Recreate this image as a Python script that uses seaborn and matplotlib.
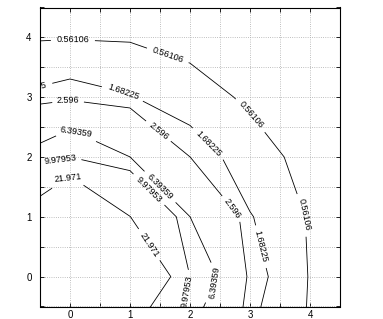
import numpy as np
import matplotlib
matplotlib.use("Agg")
import matplotlib.pyplot as plt
import seaborn as sns

# grid of sampled values (symmetric in x and y, mirrored at -1)
xs = [-1, 0, 1, 2, 3, 4, 5]
ys = [-1, 0, 1, 2, 3, 4, 5]
z = [
    [22.1, 47.5, 22.1, 6.4, 1.76, 0.456, 0.11],
    [47.5, 150.0, 47.5, 9.95, 2.2, 0.5, 0.12],
    [22.1, 47.5, 22.1, 6.4, 1.76, 0.456, 0.11],
    [6.4, 9.95, 6.4, 2.6, 0.864, 0.332, 0.09],
    [1.76, 2.2, 1.76, 0.864, 0.449, 0.25, 0.07],
    [0.456, 0.5, 0.456, 0.332, 0.25, 0.18, 0.05],
    [0.11, 0.12, 0.11, 0.09, 0.07, 0.05, 0.04],
]
levels = [0.56106, 1.68225, 2.596, 6.39359, 9.97953, 21.971]

# where the inline labels sit
label_pos = [
    (0.05, 4.0), (1.63, 3.7), (3.0, 2.69), (3.9, 1.03),
    (-0.65, 3.14), (0.88, 3.06), (2.33, 2.25), (3.18, 0.5),
    (-0.03, 2.93), (1.48, 2.44), (2.68, 1.12),
    (0.1, 2.41), (1.55, 1.55), (2.37, -0.08),
    (-0.17, 1.98), (1.33, 1.47), (1.97, -0.25),
    (0.0, 1.6), (1.3, 0.52),
]

sns.set_style("ticks")
plt.rcParams["font.family"] = ["Liberation Sans", "DejaVu Sans"]

fig = plt.figure(figsize=(3.83, 3.19), dpi=100)
ax = fig.add_axes([40 / 383, 1 - 306.5 / 319, 300 / 383, 299 / 319])

cs = ax.contour(xs, ys, np.array(z), levels=levels, colors="k", linewidths=0.6)
ax.clabel(cs, fmt="%g", fontsize=6.5, inline=True, inline_spacing=2, manual=label_pos)

ax.set_xlim(-0.5, 4.5)
ax.set_ylim(-0.5, 4.5)
ax.set_xticks([0, 1, 2, 3, 4])
ax.set_yticks([0, 1, 2, 3, 4])
ax.set_xticks(np.arange(-0.5, 4.6, 0.5), minor=True)
ax.set_yticks(np.arange(-0.5, 4.6, 0.5), minor=True)
ax.grid(which="both", linestyle=":", color="#aaaaaa", linewidth=0.6)
ax.tick_params(which="both", direction="in", top=True, right=True,
               length=3, width=0.6, labelsize=7, colors="k")
ax.tick_params(axis="x", pad=2.5)
ax.tick_params(axis="y", pad=6)
for s in ax.spines.values():
    s.set_color("k")
    s.set_linewidth(0.8)

fig.savefig("out.png", dpi=100)
